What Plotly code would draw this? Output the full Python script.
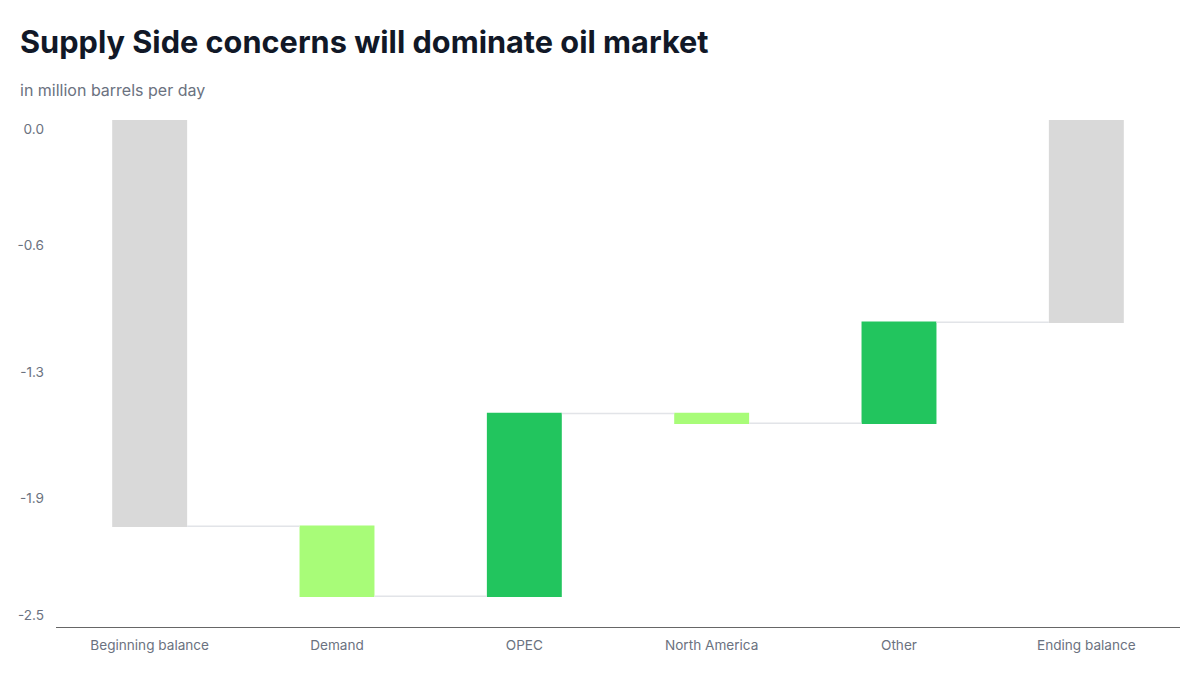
import plotly.graph_objects as go

# waterfall steps, million barrels per day
categories = ["Beginning balance", "Demand", "OPEC", "North America", "Other", "Ending balance"]
changes = [-2.09, -0.36, 0.94, -0.05, 0.52, 0]
measures = ["absolute", "relative", "relative", "relative", "relative", "total"]

tick_vals = [0, -0.6, -1.25, -1.9, -2.5]
tick_text = ["0.0", "-0.6", "-1.3", "-1.9", "-2.5"]

fig = go.Figure(go.Waterfall(
    x=categories,
    y=changes,
    measure=measures,
    base=0,
    increasing=dict(marker=dict(color="#22c55e")),
    decreasing=dict(marker=dict(color="#a8fc78")),
    totals=dict(marker=dict(color="#d9d9d9")),
    connector=dict(line=dict(color="#e2e4e8", width=1.5)),
    width=0.4,
    hoverinfo="x+y",
))

# page body adds an 8px offset, so positions below are 8px less than on screen
fig.update_layout(
    width=1200,
    height=675,
    plot_bgcolor="white",
    paper_bgcolor="white",
    font=dict(family="Inter", color="#6b7280", size=14),
    margin=dict(l=48, r=28, t=112, b=56),
    showlegend=False,
    title=dict(
        text="<b>Supply Side concerns will dominate oil market</b>",
        x=12 / 1200, xanchor="left", xref="container",
        y=1 - 34 / 675, yanchor="middle", yref="container",
        font=dict(family="Inter", size=30.7, color="#111827"),
    ),
    annotations=[dict(
        text="in million barrels per day",
        xref="paper", yref="paper",
        x=(10 - 48) / 1124, y=1 + 30 / 507,
        xanchor="left", yanchor="middle",
        showarrow=False,
        font=dict(family="Inter", size=16, color="#6b7280"),
    )],
)

fig.update_xaxes(
    showgrid=False,
    showline=True,
    linecolor="#666666",
    linewidth=1,
    ticks="",
    automargin=False,
    ticklabelstandoff=6,
    tickfont=dict(size=13.6, color="#6b7280"),
    range=[-0.5, 5.5],
)

fig.update_yaxes(
    showgrid=False,
    zeroline=False,
    showline=False,
    automargin=False,
    range=[-2.608, 0],
    tickvals=tick_vals,
    ticktext=tick_text,
    ticklabelshift=9,
    ticklabelstandoff=11,
    tickfont=dict(size=13.6, color="#6b7280"),
)

fig.write_html("out.html")
